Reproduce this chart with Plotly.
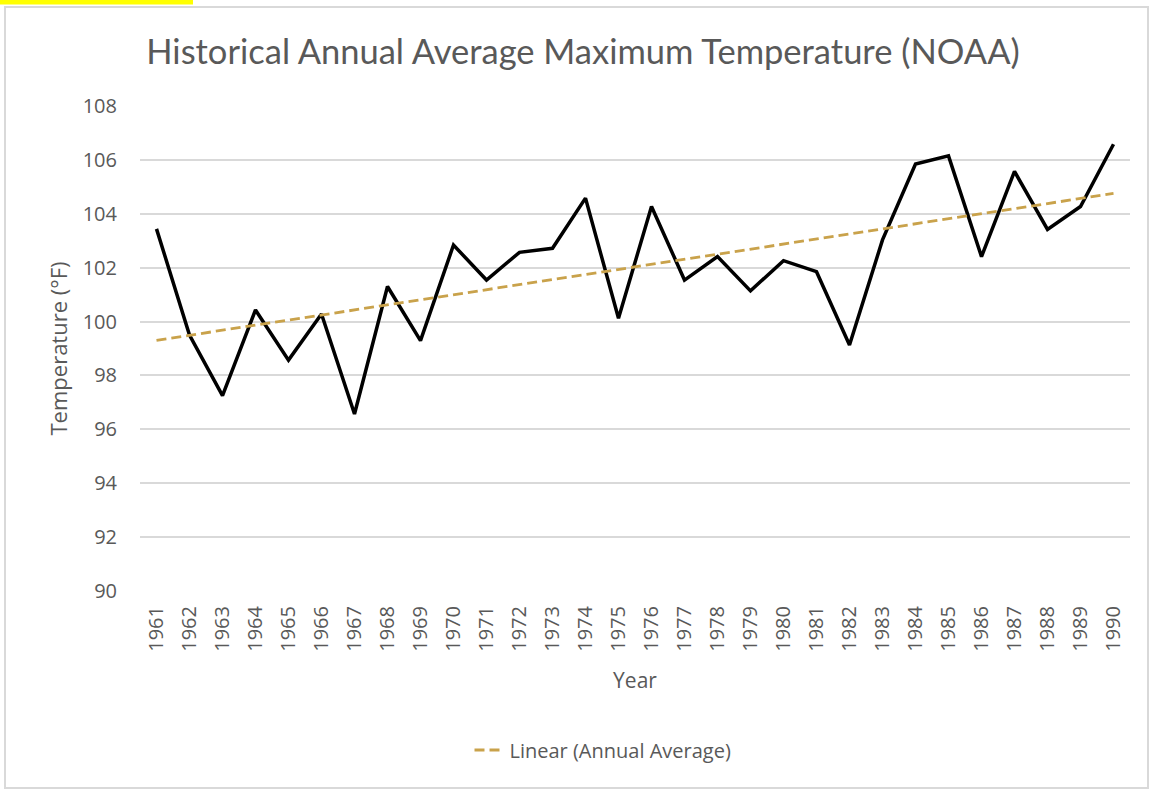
import numpy as np
import plotly.graph_objects as go

years = list(range(1961, 1991))
temps = [103.44, 99.50, 97.25, 100.43, 98.57, 100.28, 96.57, 101.30, 99.29, 102.84,
         101.54, 102.57, 102.72, 104.58, 100.12, 104.27, 101.54, 102.41, 101.14, 102.26,
         101.85, 99.13, 103.03, 105.85, 106.15, 102.41, 105.57, 103.42, 104.27, 106.58]
y_ticks = [90, 92, 94, 96, 98, 100, 102, 104, 106, 108]

title_text = "Historical Annual Average Maximum Temperature (NOAA)"
x_title = "Year"
y_title = "Temperature (°F)"
trend_name = "Linear (Annual Average)"

slope, intercept = np.polyfit(years, temps, 1)
trend = [slope * yr + intercept for yr in years]

TFONT = "Lato"
FONT = "Open Sans"
GRAY = "#595959"

fig = go.Figure()
fig.add_trace(go.Scatter(x=years, y=temps, mode="lines", name="Annual Average",
                         line=dict(color="black", width=3.5), showlegend=False))
fig.add_trace(go.Scatter(x=years, y=trend, mode="lines", name=trend_name,
                         line=dict(color="#C9A24B", width=2.8, dash="10px,5px")))

W, H = 1151, 790
L, R, T, B = 140, 21, 106, 199
pw, ph = W - L - R, H - T - B

def px(x):
    return (x - L) / pw

def py(y):
    return (H - B - y) / ph

fig.update_layout(
    width=W, height=H,
    margin=dict(l=L, r=R, t=T, b=B),
    paper_bgcolor="white", plot_bgcolor="white",
    font=dict(family=FONT, color=GRAY, size=20),
    title=dict(text=title_text, x=583 / W, xanchor="center", y=1 - 52 / H,
               yanchor="middle", font=dict(size=34.5, color=GRAY, family=TFONT)),
    xaxis=dict(range=[1960.5, 1990.5], tickmode="array", tickvals=years,
               ticktext=[str(y) for y in years], tickangle=-90,
               showgrid=False, zeroline=False, showline=False, ticks="",
               ticklabelstandoff=10,
               tickfont=dict(size=20, color=GRAY, family=FONT),
               title=dict(text=x_title, font=dict(size=21, color=GRAY, family=FONT), standoff=22)),
    yaxis=dict(range=[90, 108], tickmode="array", tickvals=y_ticks,
               showgrid=True, gridcolor="#D9D9D9", gridwidth=1.5,
               zeroline=False, showline=False, ticks="",
               ticklabelstandoff=22,
               tickfont=dict(size=20, color=GRAY, family=FONT),
               title=dict(text=y_title, font=dict(size=22, color=GRAY, family=FONT), standoff=8)),
    legend=dict(orientation="h", x=px(603), xanchor="center",
                y=py(750), yanchor="middle", font=dict(size=20, color=GRAY, family=FONT)),
    shapes=[
        dict(type="rect", xref="paper", yref="paper",
             x0=px(5), x1=px(1148), y0=py(788), y1=py(7),
             line=dict(color="#D9D9D9", width=2), fillcolor="rgba(0,0,0,0)", layer="below"),
        dict(type="rect", xref="paper", yref="paper",
             x0=px(0), x1=px(193), y0=py(4.5), y1=py(0),
             line=dict(width=0), fillcolor="#FFFF00"),
    ],
)

fig.write_html("out.html", config={"displayModeBar": False},
               post_script="document.body.style.margin='0';document.body.style.overflow='hidden';")
